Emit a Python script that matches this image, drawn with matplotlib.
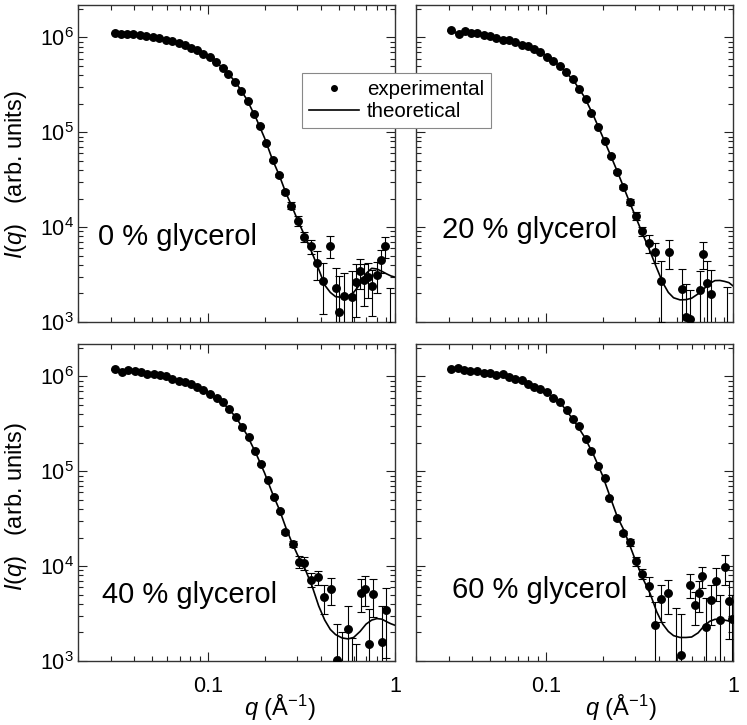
import numpy as np
import matplotlib
matplotlib.use('Agg')
import matplotlib.pyplot as plt
from matplotlib.lines import Line2D
from matplotlib.ticker import LogLocator, FixedLocator, FixedFormatter, NullFormatter

plt.rcParams['font.family'] = ['Liberation Sans', 'DejaVu Sans']
plt.rcParams['mathtext.fontset'] = 'custom'
plt.rcParams['mathtext.rm'] = 'Liberation Sans'
plt.rcParams['mathtext.it'] = 'Liberation Sans:italic'
plt.rcParams['mathtext.bf'] = 'Liberation Sans:bold'

# ---- experimental points (q in 1/A, intensity in arb. units) ----
q_0 = [0.0314, 0.0338, 0.0366, 0.0394, 0.0428, 0.0464, 0.0504, 0.0545, 0.0589, 0.0637,
       0.0692, 0.0747, 0.0808, 0.0873, 0.0940, 0.1016, 0.110, 0.119, 0.128, 0.139,
       0.150, 0.162, 0.175, 0.190, 0.204, 0.221, 0.240, 0.258, 0.278, 0.303,
       0.326, 0.353, 0.384, 0.412, 0.447, 0.483, 0.503, 0.532, 0.587, 0.618,
       0.650, 0.685, 0.720, 0.756, 0.797, 0.841, 0.887, 0.935]
I_0 = [1.12e6, 1.10e6, 1.09e6, 1.08e6, 1.07e6, 1.04e6, 1.02e6, 9.84e5, 9.44e5, 9.14e5,
       8.65e5, 8.30e5, 7.78e5, 7.29e5, 6.71e5, 6.15e5, 5.48e5, 4.82e5, 4.10e5, 3.43e5,
       2.75e5, 2.16e5, 1.55e5, 1.17e5, 7.78e4, 5.14e4, 3.52e4, 2.34e4, 1.69e4, 1.16e4,
       7.9e3, 6.3e3, 4.2e3, 2.72e3, 6.4e3, 2.3e3, 1.27e3, 1.9e3, 1.85e3, 2.63e3,
       3.43e3, 2.76e3, 3.0e3, 2.37e3, 3.14e3, 4.5e3, 6.3e3, 9.0e2]
err_0 = [6e3, 6e3, 6e3, 6e3, 5e3, 5e3, 5e3, 5e3, 5e3, 5e3,
         4e3, 4e3, 4e3, 4e3, 4e3, 3e3, 3e3, 3e3, 3e3, 3e3,
         2.5e3, 2.5e3, 2e3, 2e3, 2e3, 1.5e3, 1.2e3, 1.2e3, 1.3e3, 1.4e3,
         1.0e3, 1.1e3, 1.4e3, 1.5e3, 1.7e3, 1.4e3, 1.8e3, 1.4e3, 1.6e3, 1.5e3,
         1.2e3, 1.3e3, 1.2e3, 1.2e3, 1.1e3, 1.2e3, 1.6e3, 1.4e3]

q_20 = [0.0307, 0.0340, 0.0366, 0.0394, 0.0424, 0.0464, 0.0500, 0.0538, 0.0585, 0.0633,
        0.0679, 0.0736, 0.0800, 0.0859, 0.0925, 0.1004, 0.109, 0.1175, 0.127, 0.138,
        0.1486, 0.1626, 0.1738, 0.188, 0.205, 0.223, 0.239, 0.256, 0.279, 0.302,
        0.325, 0.355, 0.384, 0.412, 0.453, 0.530, 0.560, 0.591, 0.662, 0.690,
        0.727, 0.764, 0.930]
I_20 = [1.19e6, 1.10e6, 1.16e6, 1.12e6, 1.12e6, 1.07e6, 1.03e6, 9.9e5, 9.45e5, 9.5e5,
        8.9e5, 8.4e5, 8.1e5, 7.5e5, 6.95e5, 6.3e5, 5.6e5, 4.98e5, 4.34e5, 3.63e5,
        2.84e5, 2.23e5, 1.61e5, 1.15e5, 8.1e4, 5.6e4, 3.85e4, 2.65e4, 1.85e4, 1.31e4,
        9.0e3, 6.8e3, 5.5e3, 2.7e3, 5.5e3, 2.2e3, 1.12e3, 1.07e3, 2.15e3, 5.25e3,
        2.57e3, 1.96e3, 8.5e2]
err_20 = [6e3, 6e3, 6e3, 6e3, 5e3, 5e3, 5e3, 5e3, 5e3, 5e3,
          4e3, 4e3, 4e3, 4e3, 4e3, 3e3, 3e3, 3e3, 3e3, 3e3,
          2.5e3, 2.5e3, 2e3, 2e3, 2e3, 1.5e3, 1.3e3, 1.2e3, 1.3e3, 1.2e3,
          1.0e3, 1.5e3, 1.3e3, 1.7e3, 1.9e3, 1.4e3, 1.4e3, 1.1e3, 1.3e3, 1.65e3,
          1.8e3, 1.6e3, 1.5e3]

q_40 = [0.0317, 0.0345, 0.0372, 0.0402, 0.0433, 0.0468, 0.0508, 0.0547, 0.0594, 0.0640,
        0.0692, 0.0750, 0.0808, 0.0873, 0.0940, 0.1025, 0.1107, 0.119, 0.1295, 0.1406,
        0.1514, 0.1644, 0.177, 0.1914, 0.2076, 0.2236, 0.2427, 0.257, 0.2825, 0.304,
        0.326, 0.355, 0.385, 0.414, 0.453, 0.487, 0.520, 0.562, 0.590, 0.620,
        0.661, 0.688, 0.726, 0.766, 0.856, 0.900]
I_40 = [1.19e6, 1.11e6, 1.16e6, 1.15e6, 1.11e6, 1.07e6, 1.07e6, 1.03e6, 1.0e6, 9.5e5,
        8.9e5, 8.65e5, 8.3e5, 7.7e5, 7.2e5, 6.6e5, 5.9e5, 5.35e5, 4.5e5, 3.7e5,
        2.9e5, 2.29e5, 1.64e5, 1.19e5, 8.1e4, 5.4e4, 3.81e4, 2.3e4, 1.73e4, 1.11e4,
        1.08e4, 7.2e3, 7.6e3, 4.74e3, 5.7e3, 1.03e3, 8.0e2, 2.18e3, 7.5e2, 6.5e2,
        5.25e3, 5.8e3, 1.51e3, 5.12e3, 1.57e3, 3.47e3]
err_40 = [6e3, 6e3, 6e3, 6e3, 5e3, 5e3, 5e3, 5e3, 5e3, 5e3,
          4e3, 4e3, 4e3, 4e3, 4e3, 3e3, 3e3, 3e3, 3e3, 3e3,
          2.5e3, 2.5e3, 2e3, 2e3, 2e3, 1.5e3, 1.3e3, 1.2e3, 1.2e3, 1.6e3,
          1.6e3, 1.2e3, 1.3e3, 1.6e3, 1.85e3, 1.45e3, 1.2e3, 1.65e3, 1.0e3, 8.5e2,
          2.0e3, 2.0e3, 2.0e3, 2.2e3, 2.2e3, 2.4e3]

q_60 = [0.0307, 0.0337, 0.0362, 0.0390, 0.0422, 0.0464, 0.0498, 0.0540, 0.0587, 0.0633,
        0.0679, 0.0743, 0.0800, 0.0862, 0.0925, 0.1012, 0.109, 0.1175, 0.1286, 0.138,
        0.1486, 0.1626, 0.1738, 0.1887, 0.205, 0.2174, 0.239, 0.256, 0.279, 0.302,
        0.325, 0.353, 0.381, 0.412, 0.449, 0.495, 0.528, 0.591, 0.624, 0.656,
        0.681, 0.720, 0.765, 0.808, 0.847, 0.901, 0.946, 0.990]
I_60 = [1.2e6, 1.22e6, 1.18e6, 1.15e6, 1.13e6, 1.08e6, 1.08e6, 1.04e6, 1.07e6, 9.8e5,
        9.45e5, 9.1e5, 8.4e5, 7.8e5, 7.35e5, 6.8e5, 6.0e5, 5.35e5, 4.45e5, 3.54e5,
        3.0e5, 2.2e5, 1.64e5, 1.14e5, 8.4e4, 5.2e4, 3.19e4, 2.25e4, 1.78e4, 1.12e4,
        8.3e3, 6.2e3, 2.4e3, 4.45e3, 5.15e3, 8.0e2, 1.15e3, 6.4e3, 3.87e3, 5.15e3,
        7.9e3, 2.28e3, 4.4e3, 6.9e3, 2.7e3, 9.7e3, 4.3e3, 2.8e3]
err_60 = [6e3, 6e3, 6e3, 6e3, 5e3, 5e3, 5e3, 5e3, 5e3, 5e3,
          4e3, 4e3, 4e3, 4e3, 4e3, 3e3, 3e3, 3e3, 3e3, 3e3,
          2.5e3, 2.5e3, 2e3, 2e3, 2e3, 1.5e3, 1.3e3, 1.2e3, 1.3e3, 1.2e3,
          1.0e3, 1.4e3, 1.8e3, 1.9e3, 2.0e3, 2.8e3, 1.95e3, 1.8e3, 1.5e3, 1.9e3,
          2.0e3, 2.3e3, 2.0e3, 2.6e3, 2.3e3, 3.3e3, 2.6e3, 2.2e3]

q_theory = [0.031, 0.04, 0.05, 0.06, 0.07, 0.08, 0.09, 0.10, 0.12, 0.14,
            0.16, 0.18, 0.20, 0.22, 0.24, 0.26, 0.28, 0.30, 0.33, 0.36,
            0.39, 0.42, 0.45, 0.48, 0.52, 0.56, 0.60, 0.65, 0.70, 0.75,
            0.80, 0.85, 0.90, 0.95, 1.0]
I_theory_0 = [1.12e6, 1.08e6, 1.02e6, 9.4e5, 8.6e5, 7.8e5, 7.0e5, 6.25e5, 4.75e5, 3.38e5,
              2.25e5, 1.41e5, 8.7e4, 5.2e4, 3.5e4, 2.3e4, 1.66e4, 1.2e4, 7.9e3, 5.3e3,
              3.6e3, 2.45e3, 2.05e3, 1.85e3, 1.82e3, 1.88e3, 2.05e3, 2.5e3, 3.25e3, 3.68e3,
              3.62e3, 3.42e3, 3.22e3, 3.06e3, 2.97e3]
I_theory_20 = [1.13e6, 1.11e6, 1.04e6, 9.5e5, 8.7e5, 8.0e5, 7.2e5, 6.4e5, 4.85e5, 3.5e5,
               2.35e5, 1.45e5, 9.0e4, 5.8e4, 3.85e4, 2.6e4, 1.8e4, 1.3e4, 8.2e3, 5.5e3,
               3.7e3, 2.6e3, 2.05e3, 1.8e3, 1.71e3, 1.72e3, 1.78e3, 1.98e3, 2.25e3, 2.55e3,
               2.73e3, 2.74e3, 2.68e3, 2.6e3, 2.4e3]
I_theory_40 = [1.15e6, 1.13e6, 1.07e6, 9.9e5, 8.9e5, 8.2e5, 7.5e5, 6.75e5, 5.25e5, 3.75e5,
               2.47e5, 1.54e5, 9.6e4, 5.9e4, 3.95e4, 2.55e4, 1.78e4, 1.32e4, 9.3e3, 6.1e3,
               3.8e3, 2.7e3, 2.15e3, 1.9e3, 1.75e3, 1.71e3, 1.77e3, 2.05e3, 2.45e3, 2.7e3,
               2.8e3, 2.76e3, 2.6e3, 2.47e3, 2.38e3]
I_theory_60 = [1.2e6, 1.15e6, 1.08e6, 1.02e6, 9.3e5, 8.5e5, 7.6e5, 6.85e5, 5.15e5, 3.45e5,
               2.3e5, 1.45e5, 9.0e4, 5.3e4, 3.3e4, 2.4e4, 1.65e4, 1.15e4, 7.3e3, 5.1e3,
               3.3e3, 2.45e3, 2.05e3, 1.85e3, 1.77e3, 1.77e3, 1.79e3, 1.98e3, 2.35e3, 2.62e3,
               2.75e3, 2.75e3, 2.7e3, 2.64e3, 2.68e3]

panel_labels = ['0 % glycerol', '20 % glycerol', '40 % glycerol', '60 % glycerol']


def draw_panel(ax, q, I, err, I_th, label, label_xy, left, bottom):
    I = np.asarray(I)
    err = np.asarray(err)
    # keep the lower bar positive on the log axis
    lower = np.minimum(err, 0.95 * I)
    ax.set_xscale('log')
    ax.set_yscale('log')
    ax.plot(q_theory, I_th, color='black', lw=1.2, zorder=2)
    ax.errorbar(q, I, yerr=[lower, err], fmt='o', color='black', ms=5.4,
                elinewidth=0.8, capsize=2.6, capthick=0.8, zorder=3)
    ax.set_xlim(0.02, 1.0)
    ax.set_ylim(1e3, 2.2e6)

    ax.xaxis.set_major_locator(FixedLocator([0.1, 1.0]))
    ax.xaxis.set_major_formatter(FixedFormatter(['0.1', '1']))
    ax.xaxis.set_minor_locator(LogLocator(base=10, subs=np.arange(2, 10)))
    ax.xaxis.set_minor_formatter(NullFormatter())
    ax.yaxis.set_major_locator(LogLocator(base=10, numticks=10))
    ax.yaxis.set_minor_locator(LogLocator(base=10, subs=np.arange(2, 10), numticks=10))
    ax.yaxis.set_minor_formatter(NullFormatter())

    ax.tick_params(which='both', direction='in', top=True, right=True,
                   width=0.8, colors='#222222', labelcolor='black', labelsize=15.5)
    ax.tick_params(which='major', length=6.5)
    ax.tick_params(which='minor', length=3.5)
    ax.tick_params(axis='x', pad=11)
    ax.tick_params(axis='y', pad=3)
    ax.tick_params(labelleft=left, labelbottom=bottom)
    for s in ax.spines.values():
        s.set_color('#333333')
        s.set_linewidth(1.0)

    ax.text(label_xy[0], label_xy[1], label, transform=ax.transAxes,
            fontsize=21, ha='left', va='center')


fig = plt.figure(figsize=(7.47, 7.25), dpi=100)

ax1 = fig.add_axes([0.1044, 0.5559, 0.4244, 0.4372])
ax2 = fig.add_axes([0.5569, 0.5559, 0.4244, 0.4372])
ax3 = fig.add_axes([0.1044, 0.0883, 0.4244, 0.4372])
ax4 = fig.add_axes([0.5569, 0.0883, 0.4244, 0.4372])

draw_panel(ax1, q_0, I_0, err_0, I_theory_0, panel_labels[0], (0.063, 0.268), True, False)
draw_panel(ax2, q_20, I_20, err_20, I_theory_20, panel_labels[1], (0.081, 0.29), False, False)
draw_panel(ax3, q_40, I_40, err_40, I_theory_40, panel_labels[2], (0.075, 0.208), True, True)
draw_panel(ax4, q_60, I_60, err_60, I_theory_60, panel_labels[3], (0.113, 0.224), False, True)

# axis titles
ylab = r'$\mathit{I}(\mathit{q})$   (arb. units)'
fig.text(0.022, 0.759, ylab, rotation=90, fontsize=17, ha='center', va='center')
fig.text(0.022, 0.301, ylab, rotation=90, fontsize=17, ha='center', va='center')
xlab = r'$\mathit{q}$ (Å$^{-1}$)'
fig.text(0.375, 0.003, xlab, fontsize=17, ha='center', va='bottom')
fig.text(0.831, 0.003, xlab, fontsize=17, ha='center', va='bottom')

# legend sits across the two upper panels
handles = [Line2D([], [], marker='o', ls='none', color='black', ms=4),
           Line2D([], [], color='black', lw=1.2)]
leg = fig.legend(handles, ['experimental', 'theoretical'], loc='upper left',
                 bbox_to_anchor=(302 / 747, 1 - 73 / 725), fontsize=14.8,
                 frameon=True, fancybox=False, edgecolor='#888888', framealpha=1,
                 borderpad=0.35, labelspacing=0.15, handlelength=2.4,
                 handletextpad=0.4, borderaxespad=0)
leg.get_frame().set_linewidth(0.8)

fig.savefig('out.png', dpi=100)
